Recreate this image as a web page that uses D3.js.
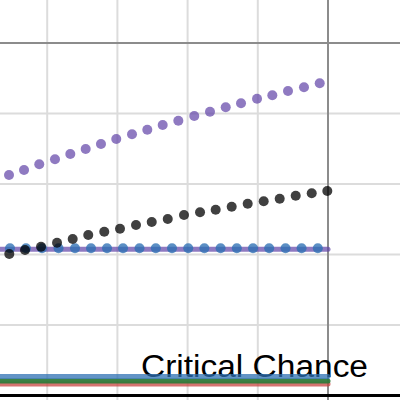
<!DOCTYPE html>
<html>
<head>
<meta charset="utf-8">
<script src="https://cdn.jsdelivr.net/npm/d3@7"></script>
<style>
html,body{margin:0;padding:0;background:#fff;}
svg{display:block;}
</style>
</head>
<body>
<svg id="chart" width="400" height="400"></svg>
<script>
// Grid ticks
const xGridTicks = [-4, -3, -2, -1];
const yGridTicks = [1, 2, 3, 4];
const xAxisValue = 0;   // dark vertical line
const yAxisValue = 5;   // dark horizontal line
const baseValue = 0;    // black bottom line

// Purple dotted series
const purpleX = [-4.544,-4.330,-4.113,-3.889,-3.671,-3.452,-3.234,-3.016,-2.792,-2.574,-2.355,-2.132,-1.905,-1.681,-1.457,-1.239,-1.011,-0.793,-0.570,-0.342,-0.118];
const purpleY = [3.128,3.199,3.279,3.350,3.426,3.496,3.567,3.638,3.705,3.770,3.837,3.898,3.965,4.026,4.088,4.145,4.210,4.258,4.319,4.372,4.428];

// Black dotted series
const blackX = [-4.540,-4.316,-4.088,-3.860,-3.637,-3.415,-3.187,-2.963,-2.735,-2.511,-2.283,-2.051,-1.823,-1.600,-1.372,-1.144,-0.916,-0.688,-0.460,-0.232,-0.010];
const blackY = [2.007,2.064,2.111,2.167,2.220,2.277,2.323,2.366,2.418,2.461,2.504,2.560,2.599,2.635,2.678,2.721,2.755,2.791,2.834,2.868,2.901];

// Blue dotted series (flat)
const blueX = [-4.530,-4.302,-4.074,-3.838,-3.604,-3.376,-3.148,-2.920,-2.685,-2.453,-2.222,-1.991,-1.761,-1.530,-1.299,-1.068,-0.838,-0.605,-0.376,-0.145];
const blueY = [2.088,2.088,2.088,2.088,2.088,2.088,2.088,2.088,2.088,2.088,2.088,2.088,2.088,2.088,2.088,2.088,2.088,2.088,2.088,2.088];

// Solid lines
const lineX = [-4.9, 0];
const purpleLineY = [2.076, 2.076];
const redLineY = [0.163, 0.163];
const greenLineY = [0.206, 0.206];
const blueLineY = [0.270, 0.270];

const labelText = "Critical Chance";

const svg = d3.select("#chart");
const W = 400, H = 400;
const x = d3.scaleLinear().domain([-328/70.2, 72/70.2]).range([0, W]);
const y = d3.scaleLinear().domain([0, 5]).range([395.5, 43]);

// light grid
svg.append("g").selectAll("line").data(xGridTicks).join("line")
  .attr("x1", d => x(d)).attr("x2", d => x(d)).attr("y1", 0).attr("y2", H)
  .attr("stroke", "#dcdcdc").attr("stroke-width", 2);
svg.append("g").selectAll("line").data(yGridTicks).join("line")
  .attr("y1", d => y(d)).attr("y2", d => y(d)).attr("x1", 0).attr("x2", W)
  .attr("stroke", "#dcdcdc").attr("stroke-width", 2);

// dark axis lines
svg.append("line").attr("x1", 0).attr("x2", W).attr("y1", y(yAxisValue)).attr("y2", y(yAxisValue))
  .attr("stroke", "#8c8c8c").attr("stroke-width", 2);
svg.append("line").attr("x1", x(xAxisValue)).attr("x2", x(xAxisValue)).attr("y1", 0).attr("y2", H)
  .attr("stroke", "#8c8c8c").attr("stroke-width", 2);

// black base line
svg.append("line").attr("x1", 0).attr("x2", W).attr("y1", y(baseValue)).attr("y2", y(baseValue))
  .attr("stroke", "#000").attr("stroke-width", 3);

// label
svg.append("text").attr("x", 141).attr("y", 377)
  .attr("font-family", "Liberation Sans, Arial, sans-serif").attr("font-size", 31)
  .attr("textLength", 227).attr("lengthAdjust", "spacingAndGlyphs")
  .attr("fill", "#000").text(labelText);

const line = d3.line().x(d => x(d[0])).y(d => y(d[1]));
function drawLine(ys, color, op, w) {
  svg.append("path").datum(lineX.map((v, i) => [v, ys[i]]))
    .attr("d", line).attr("fill", "none").attr("stroke", color)
    .attr("stroke-opacity", op).attr("stroke-width", w).attr("stroke-linecap", "round");
}
drawLine(redLineY, "#c74440", 0.75, 5);
drawLine(greenLineY, "#2f7a3a", 0.95, 5);
drawLine(blueLineY, "#2d70b3", 0.75, 5);
drawLine(purpleLineY, "#6042a6", 0.7, 5);

function drawDots(xs, ys, color, op) {
  svg.append("g").selectAll("circle").data(xs.map((v, i) => [v, ys[i]])).join("circle")
    .attr("cx", d => x(d[0])).attr("cy", d => y(d[1])).attr("r", 5)
    .attr("fill", color).attr("fill-opacity", op);
}
drawDots(blueX, blueY, "#2d70b3", 0.78);
drawDots(blackX, blackY, "#000", 0.75);
drawDots(purpleX, purpleY, "#6042a6", 0.7);
</script>
</body>
</html>
